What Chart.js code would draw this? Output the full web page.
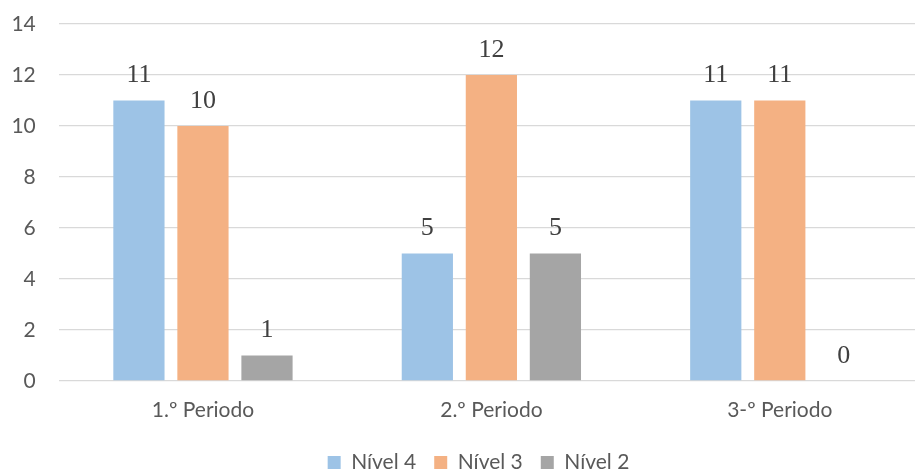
<!DOCTYPE html>
<html>
<head>
<meta charset="utf-8">
<script src="https://cdn.jsdelivr.net/npm/chart.js@4/dist/chart.umd.min.js"></script>
<style>
  html, body { margin: 0; padding: 0; background: #fff; overflow: hidden; }
  #wrap { width: 957px; height: 472px; }
</style>
</head>
<body>
<div id="wrap"><canvas id="c" width="957" height="472"></canvas></div>
<script>
const categories = ['1.º Periodo', '2.º Periodo', '3-º Periodo'];
const nivel4 = [11, 5, 11];
const nivel3 = [10, 12, 11];
const nivel2 = [1, 5, 0];
const seriesNames = ['Nível 4', 'Nível 3', 'Nível 2'];
const yTicks = [0, 2, 4, 6, 8, 10, 12, 14];

const colors = ['#9DC3E6', '#F4B183', '#A5A5A5'];
const textColor = '#595959';
const uiFont = 'Lato, "Open Sans", sans-serif';

// Numbers printed above each bar
const valueLabels = {
  id: 'valueLabels',
  afterDatasetsDraw(chart) {
    const ctx = chart.ctx;
    ctx.save();
    ctx.font = '26px "Liberation Serif", "Times New Roman", serif';
    ctx.fillStyle = '#404040';
    ctx.textAlign = 'center';
    ctx.textBaseline = 'middle';
    chart.data.datasets.forEach((ds, i) => {
      chart.getDatasetMeta(i).data.forEach((bar, j) => {
        ctx.fillText(String(ds.data[j]), bar.x, bar.y - 25);
      });
    });
    ctx.restore();
  }
};

new Chart(document.getElementById('c'), {
  type: 'bar',
  data: {
    labels: categories,
    datasets: [nivel4, nivel3, nivel2].map((d, i) => ({
      label: seriesNames[i],
      data: d,
      backgroundColor: colors[i],
      borderWidth: 0,
      categoryPercentage: 0.666,
      barPercentage: 0.8
    }))
  },
  options: {
    responsive: false,
    animation: false,
    layout: { padding: { top: 24, right: 0, bottom: -11, left: 0 } },
    scales: {
      x: {
        grid: { display: false, drawTicks: false },
        border: { display: false },
        ticks: { color: textColor, font: { family: uiFont, size: 21 }, padding: 17 },
        afterFit(scale) {
          scale.height = 53;
          scale.paddingLeft = 0;
          scale.paddingRight = 33;
        }
      },
      y: {
        min: 0,
        max: 14,
        afterBuildTicks(scale) { scale.ticks = yTicks.map(v => ({ value: v })); },
        afterFit(scale) {
          scale.width = 58.75;
          scale.paddingTop = 0;
          scale.paddingBottom = 0;
        },
        grid: { color: '#D9D9D9', lineWidth: 1.3, drawTicks: false },
        border: { display: false },
        ticks: { color: textColor, font: { family: uiFont, size: 21 }, padding: 23 }
      }
    },
    plugins: {
      legend: {
        position: 'bottom',
        labels: {
          color: textColor,
          font: { family: uiFont, size: 21 },
          boxWidth: 13,
          boxHeight: 13,
          padding: 18
        }
      },
      tooltip: { enabled: false }
    }
  },
  plugins: [valueLabels]
});
</script>
</body>
</html>
